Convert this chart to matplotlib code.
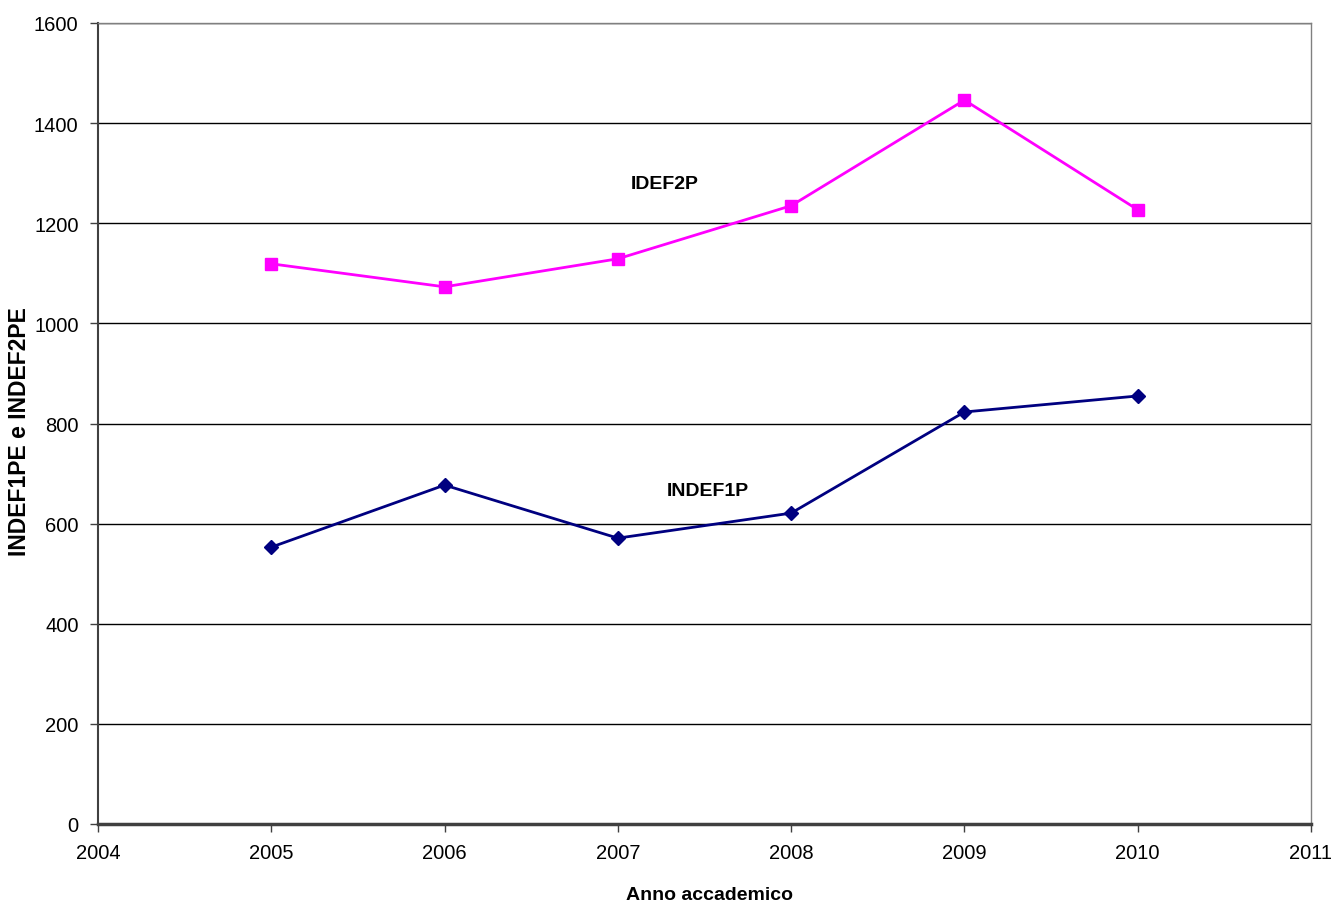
import matplotlib
matplotlib.use("Agg")
import matplotlib.pyplot as plt

# dati
anni = [2005, 2006, 2007, 2008, 2009, 2010]
idef2p = [1119, 1073, 1129, 1235, 1446, 1227]
indef1p = [553, 677, 571, 621, 823, 855]

FONT = ["Liberation Sans Narrow", "Liberation Sans", "DejaVu Sans"]

fig = plt.figure(figsize=(13.33, 9.04), dpi=100)
ax = fig.add_axes([98 / 1333, 1 - 825 / 904, (1311 - 98) / 1333, (825 - 24) / 904])

ax.plot(anni, idef2p, color="#FF00FF", lw=2, marker="s", ms=9, zorder=3)
ax.plot(anni, indef1p, color="#000080", lw=2, marker="D", ms=7, zorder=3)

ax.set_xlim(2004, 2011)
ax.set_ylim(0, 1600)
ax.set_xticks(range(2004, 2012))
ax.set_yticks(range(0, 1601, 200))
ax.yaxis.grid(True, color="black", lw=1)
ax.set_axisbelow(True)

for s in ("top", "right"):
    ax.spines[s].set_color("#808080")
    ax.spines[s].set_linewidth(1)
ax.spines["left"].set_color("#404040")
ax.spines["left"].set_linewidth(1.5)
ax.spines["bottom"].set_color("#404040")
ax.spines["bottom"].set_linewidth(2.5)
ax.tick_params(direction="out", length=6, width=1, color="#404040",
               labelsize=14.5, pad=8)
for lab in ax.get_xticklabels() + ax.get_yticklabels():
    lab.set_family(FONT)

ax.text(2007.27, 1280, "IDEF2P", fontsize=14, fontweight="bold", family=FONT,
        ha="center", va="center")
ax.text(2007.52, 667, "INDEF1P", fontsize=14, fontweight="bold", family=FONT,
        ha="center", va="center")

fig.text(709 / 1333, 1 - 896 / 904, "Anno accademico", fontsize=14,
         fontweight="bold", family=FONT, ha="center", va="center")
fig.text(20 / 1333, 1 - 432 / 904, "INDEF1PE e INDEF2PE", fontsize=16.5,
         fontweight="bold", family=FONT, rotation=90, ha="center", va="center")

fig.savefig("out.png", dpi=100, facecolor="white")
